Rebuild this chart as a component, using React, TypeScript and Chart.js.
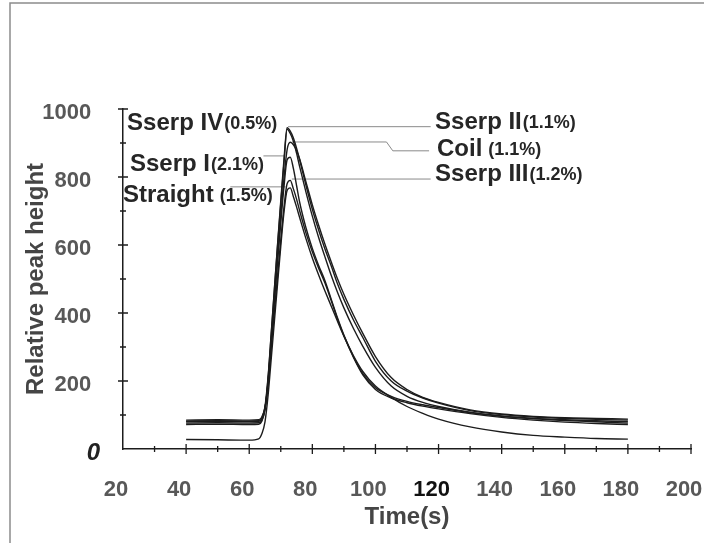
import React, { useEffect, useRef } from "react";
import { Chart, registerables } from "chart.js";

Chart.register(...registerables);

// ---- data ----
const TIME = [40, 50, 60, 63, 64, 65, 66, 67, 68, 69, 70, 71, 72, 73, 74, 75, 76, 78, 80, 82, 84, 86, 88, 90, 93, 96, 100, 105, 110, 115, 120, 130, 140, 150, 160, 170, 180];

const SSERP_II = [82, 83, 82, 83, 92, 125, 215, 345, 475, 605, 730, 850, 945, 935, 915, 885, 850, 775, 705, 644, 588, 538, 485, 440, 380, 328, 258, 200, 170, 150, 135, 113, 101, 94, 90, 87, 85];
const COIL = [76, 77, 76, 77, 85, 115, 200, 322, 447, 570, 688, 795, 880, 902, 895, 878, 852, 785, 718, 658, 602, 550, 500, 455, 395, 340, 272, 210, 175, 152, 137, 115, 103, 96, 92, 90, 88];
const SSERP_IV = [72, 73, 72, 73, 82, 118, 210, 340, 470, 600, 722, 840, 940, 928, 905, 870, 830, 755, 685, 622, 565, 510, 460, 415, 355, 302, 240, 185, 155, 137, 125, 108, 97, 90, 86, 83, 80];
const SSERP_I = [80, 81, 80, 81, 89, 120, 200, 318, 435, 552, 665, 770, 850, 858, 825, 775, 725, 650, 590, 540, 495, 440, 385, 335, 272, 222, 180, 155, 140, 130, 122, 107, 96, 89, 84, 80, 76];
const SSERP_III = [85, 86, 85, 86, 94, 122, 192, 298, 405, 512, 615, 710, 780, 790, 765, 735, 700, 635, 580, 532, 488, 436, 382, 333, 270, 218, 175, 150, 136, 126, 118, 104, 93, 85, 79, 75, 72];
const STRAIGHT = [28, 27, 26, 30, 45, 80, 160, 268, 378, 488, 596, 695, 760, 768, 742, 712, 680, 618, 562, 512, 465, 420, 375, 332, 275, 228, 185, 152, 125, 105, 88, 65, 50, 40, 35, 31, 29];

const SERIES_NAMES = ["Sserp II", "Coil", "Sserp IV", "Sserp I", "Sserp III", "Straight"];
const SERIES_VALUES = [SSERP_II, COIL, SSERP_IV, SSERP_I, SSERP_III, STRAIGHT];
const SERIES_PCT = ["(1.1%)", " (1.1%)", "(0.5%)", "(2.1%)", "(1.2%)", " (1.5%)"];

const X_MIN = 20;
const X_MAX = 200;
const Y_MIN = 0;
const Y_MAX = 1000;

// leader lines (data units)
const LEADER_II = [[72.3, 948], [117.5, 948]];
const LEADER_COIL = [[73.5, 903], [103.5, 903], [105.5, 877], [117, 877]];
const LEADER_III = [[73.5, 794], [117.5, 794]];
const LEADER_I = [[64.5, 862], [71.3, 862]];
const LEADER_STRAIGHT = [[54, 771], [71.5, 771]];
const LEADERS = [LEADER_II, LEADER_COIL, LEADER_III, LEADER_I, LEADER_STRAIGHT];

// label anchors (data units): series index, x, y
const LABEL_ANCHORS = [
  { s: 2, x: 21.3, y: 959 },
  { s: 3, x: 22.2, y: 838 },
  { s: 5, x: 20.0, y: 747 },
  { s: 0, x: 118.9, y: 962 },
  { s: 1, x: 119.5, y: 882 },
  { s: 4, x: 118.9, y: 809 },
];

const FONT = '"Liberation Sans", Arial, sans-serif';

export default function App() {
  const ref = useRef<HTMLCanvasElement>(null);

  useEffect(() => {
    const canvas = ref.current;
    if (!canvas) return;
    Chart.defaults.font.family = FONT;

    const curveSets = SERIES_VALUES.map((vals, i) => ({
      label: SERIES_NAMES[i],
      data: TIME.map((t, j) => ({ x: t, y: vals[j] })),
      borderColor: "#1c1c1c",
      borderWidth: 1.4,
      pointRadius: 0,
      fill: false,
      cubicInterpolationMode: "monotone" as const,
    }));
    const leaderSets = LEADERS.map((pts, i) => ({
      label: "leader" + i,
      data: pts.map((p) => ({ x: p[0], y: p[1] })),
      borderColor: "#8a8a8a",
      borderWidth: 1,
      pointRadius: 0,
      fill: false,
      tension: 0,
    }));

    const framePlugin = {
      id: "frame",
      beforeDraw(chart: any) {
        const { ctx, width, height } = chart;
        ctx.save();
        ctx.fillStyle = "#ffffff";
        ctx.fillRect(0, 0, width, height);
        ctx.strokeStyle = "#8c8c8c";
        ctx.lineWidth = 1.5;
        ctx.beginPath();
        ctx.moveTo(10, height);
        ctx.lineTo(10, 3);
        ctx.lineTo(width, 3);
        ctx.stroke();
        ctx.restore();
      },
    };

    const tickPlugin = {
      id: "crossTicks",
      afterDraw(chart: any) {
        const { ctx, chartArea } = chart;
        const xs = chart.scales.x;
        const ys = chart.scales.y;
        ctx.save();
        ctx.strokeStyle = "#1c1c1c";
        ctx.lineWidth = 1.3;
        ctx.beginPath();
        xs.ticks.forEach((t: any) => {
          if (t.value === X_MIN) return;
          const px = xs.getPixelForValue(t.value);
          const len = t.value % 20 === 0 ? 5 : 3;
          ctx.moveTo(px, chartArea.bottom - len);
          ctx.lineTo(px, chartArea.bottom + len);
        });
        ys.ticks.forEach((t: any) => {
          if (t.value === Y_MIN) return;
          const py = ys.getPixelForValue(t.value);
          const len = t.value % 200 === 0 ? 5 : 3;
          ctx.moveTo(chartArea.left - len, py);
          ctx.lineTo(chartArea.left + len, py);
        });
        ctx.stroke();
        ctx.restore();
      },
    };

    const labelPlugin = {
      id: "seriesLabels",
      afterDatasetsDraw(chart: any) {
        const { ctx } = chart;
        const xs = chart.scales.x;
        const ys = chart.scales.y;
        ctx.save();
        ctx.fillStyle = "#262626";
        ctx.textBaseline = "middle";
        ctx.textAlign = "left";
        LABEL_ANCHORS.forEach((a) => {
          const px = xs.getPixelForValue(a.x);
          const py = ys.getPixelForValue(a.y);
          ctx.font = `bold 24px ${FONT}`;
          const name = SERIES_NAMES[a.s];
          ctx.fillText(name, px, py);
          const w = ctx.measureText(name).width;
          ctx.font = `bold 18px ${FONT}`;
          ctx.fillText(SERIES_PCT[a.s], px + w + 1, py + 1);
        });
        ctx.restore();
      },
    };

    const chart = new Chart(canvas, {
      type: "line",
      data: { datasets: [...curveSets, ...leaderSets] as any },
      options: {
        responsive: false,
        animation: false,
        layout: { padding: { left: 0, top: 109, right: 13, bottom: 0 } },
        plugins: { legend: { display: false }, tooltip: { enabled: false } },
        scales: {
          x: {
            type: "linear",
            min: X_MIN,
            max: X_MAX,
            afterFit(s: any) {
              s.height = 94;
              s.paddingLeft = 0;
              s.paddingRight = 0;
            },
            grid: { display: false, drawTicks: false },
            border: { display: true, color: "#1c1c1c", width: 1.5 },
            ticks: {
              stepSize: 10,
              autoSkip: false,
              maxRotation: 0,
              padding: 28,
              labelOffset: -7,
              font: { size: 22, weight: "bold" },
              color: (c: any) => (c.tick && c.tick.value === 120 ? "#111111" : "#585858"),
              callback: (v: any) => (Number(v) % 20 === 0 ? String(v) : ""),
            },
            title: {
              display: true,
              text: "Time(s)",
              color: "#454545",
              font: { size: 24, weight: "bold" },
              padding: { top: 0, bottom: 11 },
            },
          },
          y: {
            type: "linear",
            min: Y_MIN,
            max: Y_MAX,
            afterFit(s: any) {
              s.width = 123;
              s.paddingTop = 0;
              s.paddingBottom = 0;
            },
            grid: { display: false, drawTicks: false },
            border: { display: true, color: "#1c1c1c", width: 1.5 },
            ticks: {
              stepSize: 100,
              autoSkip: false,
              padding: 23,
              labelOffset: 4,
              font: (c: any) =>
                c.tick && c.tick.value === 0
                  ? { size: 24, weight: "bold", style: "italic" }
                  : { size: 22, weight: "bold" },
              color: (c: any) => (c.tick && c.tick.value === 0 ? "#222222" : "#585858"),
              callback: (v: any) => {
                const n = Number(v);
                if (n % 200 !== 0) return "";
                return n === 0 ? "0" : String(n) + "\u2009\u2009";
              },
            },
            title: {
              display: true,
              text: "Relative peak height",
              color: "#454545",
              font: { size: 24, weight: "bold" },
              padding: { top: 22, bottom: 0 },
            },
          },
        },
      } as any,
      plugins: [framePlugin, tickPlugin, labelPlugin],
    });

    return () => chart.destroy();
  }, []);

  return (
    <div style={{ position: "absolute", left: 0, top: 0, width: 704, height: 543, background: "#fff" }}>
      <canvas ref={ref} width={704} height={543} style={{ display: "block", width: 704, height: 543 }} />
    </div>
  );
}
